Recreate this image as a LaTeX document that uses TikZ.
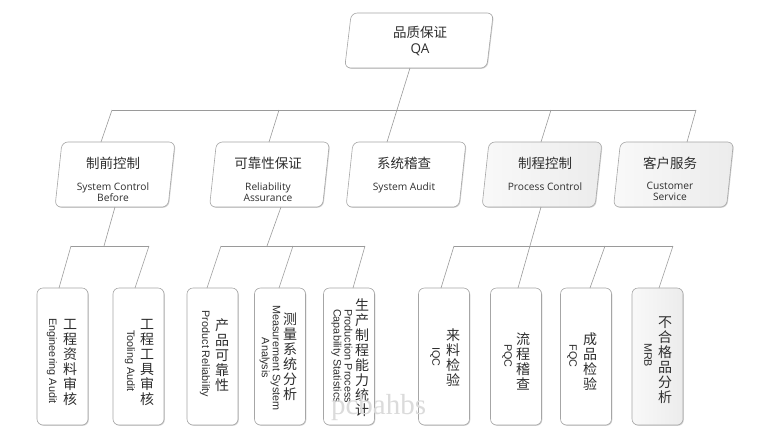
\documentclass[tikz,border=0pt]{standalone}
\usepackage{fontspec}
\setmainfont{Open Sans}
\newfontfamily\zhfont{Noto Sans CJK SC}
\newfontfamily\arfont{Liberation Sans}
\newfontfamily\wmfont{Liberation Serif}
\usetikzlibrary{calc,shadows}
\definecolor{linegray}{HTML}{9A9A9A}
\definecolor{boxgray}{HTML}{A6A6A6}
\definecolor{txt}{HTML}{2E2E2E}
\newcommand{\slantframe}[3]{%
  \path[boxline,#3] ([xshift=-#2pt]#1.south west) -- ([xshift=#2pt]#1.north west)
     -- ([xshift=#2pt]#1.north east) -- ([xshift=-#2pt]#1.south east) -- cycle;}
\tikzset{
  frame/.style={inner sep=0pt, outer sep=0pt},
  midbox/.style={frame, minimum width=113pt, minimum height=65pt},
  topbox/.style={frame, minimum width=142pt, minimum height=55pt},
  boxline/.style={draw=boxgray, line width=0.6pt, rounded corners=6pt, fill=white,
    drop shadow={shadow xshift=0.8pt, shadow yshift=-0.8pt, opacity=0.18, fill=black}},
  grayfill/.style={left color=gray!5, right color=gray!15},
  leafbox/.style={frame, draw=boxgray, line width=0.6pt, rounded corners=6pt, fill=white,
    minimum width=51pt, minimum height=137pt,
    drop shadow={shadow xshift=0.8pt, shadow yshift=-0.8pt, opacity=0.18, fill=black}},
  conn/.style={draw=linegray, line width=0.6pt},
  zhtitle/.style={frame, font=\zhfont\fontsize{13.5}{15}\selectfont, text=txt},
  entitle/.style={frame, font=\fontsize{10.2}{11}\selectfont, align=center, text=txt, anchor=north},
  zhcol/.style={frame, font=\zhfont\fontsize{14}{15}\selectfont, align=center, text=txt},
  encol/.style={frame, font=\arfont\fontsize{10.8}{11}\selectfont, align=center, rotate=-90, text=txt},
  wmark/.style={frame, font=\wmfont\fontsize{29}{30}\selectfont, text=gray!28, anchor=base west},
}
\begin{document}
\begin{tikzpicture}[x=1pt,y=-1pt]
\fill[white] (0,0) rectangle (757,442);
\useasboundingbox (0,0) rectangle (757,442);

% ---- top box
\node[topbox] (qa) at (419,40.5) {};
\slantframe{qa}{3.3}{}
\node[zhtitle] (qaz) at (420,32) {品质保证};
\node[frame, font=\fontsize{13.5}{15}\selectfont, text=txt] (qae) at (420,50) {QA};

% ---- middle boxes
\node[midbox] (m1) at (115,174.5) {};
\node[midbox] (m2) at (269.5,174.5) {};
\node[midbox] (m3) at (406,174.5) {};
\node[midbox] (m4) at (542,174.5) {};
\node[midbox] (m5) at (673.5,174.5) {};
\slantframe{m1}{3.5}{}
\slantframe{m2}{3.5}{}
\slantframe{m3}{3.5}{}
\slantframe{m4}{3.5}{grayfill}
\slantframe{m5}{3.5}{grayfill}

\node[zhtitle] (m1z) at (113,163) {制前控制};
\node[entitle] (m1e) at (113,182.5) {System Control\\Before};
\node[zhtitle] (m2z) at (268,163) {可靠性保证};
\node[entitle] (m2e) at (268,182.5) {Reliability\\Assurance};
\node[zhtitle] (m3z) at (404,163) {系统稽查};
\node[entitle] (m3e) at (404,182.5) {System Audit};
\node[zhtitle] (m4z) at (545,163) {制程控制};
\node[entitle] (m4e) at (545,182.5) {Process Control};
\node[zhtitle] (m5z) at (670,163) {客户服务};
\node[entitle] (m5e) at (670,182.5) {Customer\\Service};

% ---- leaf boxes
\node[leafbox] (b1) at (62.5,356.5) {};
\node[leafbox] (b2) at (138.5,356.5) {};
\node[leafbox] (b3) at (212.5,356.5) {};
\node[leafbox] (b4) at (280,356.5) {};
\node[leafbox] (b5) at (349,356.5) {};
\node[leafbox] (b6) at (444,356.5) {};
\node[leafbox] (b7) at (516,356.5) {};
\node[leafbox] (b8) at (586,356.5) {};
\node[leafbox, grayfill] (b9) at (657.5,356.5) {};

\node[zhcol] (b1z) at (70,362) {工\\程\\资\\料\\审\\核};
\node[encol] (b1e) at (52,361) {Engineering Audit};
\node[zhcol] (b2z) at (147,362) {工\\程\\工\\具\\审\\核};
\node[encol] (b2e) at (130,361) {Tooling Audit};
\node[zhcol] (b3z) at (222,355) {产\\品\\可\\靠\\性};
\node[encol] (b3e) at (205,354) {Product Reliability};
\node[zhcol] (b4z) at (290,357) {测\\量\\系\\统\\分\\析};
\node[encol] (b4e) at (270,358) {Measurement System\\Analysis};
\node[zhcol] (b5z) at (362,358) {生\\产\\制\\程\\能\\力\\统\\计};
\node[encol] (b5e) at (342,356) {Production Process\\Capability Statistics};
\node[zhcol] (b6z) at (453,358) {来\\料\\检\\验};
\node[encol] (b6e) at (435,357) {IQC};
\node[zhcol] (b7z) at (523,361) {流\\程\\稽\\查};
\node[encol] (b7e) at (507,356) {PQC};
\node[zhcol] (b8z) at (590,362) {成\\品\\检\\验};
\node[encol] (b8e) at (572,356) {FQC};
\node[zhcol] (b9z) at (665,360) {不\\合\\格\\品\\分\\析};
\node[encol] (b9e) at (648,355) {MRB};

% ---- connectors, level 1
\coordinate (h1L) at (112,110);
\coordinate (h1R) at (696,110);
\coordinate (h1b) at (279,110);
\coordinate (h1d) at (551,110);
\draw[conn] (h1L) -- (h1R);
\draw[conn] ($(qa.south)+(-9,0)$) -- ($(m3.north)+(-19,0)$);
\draw[conn] (h1L) -- ($(m1.north)+(-14,0)$);
\draw[conn] (h1b) -- ($(m2.north)+(-0.5,0)$);
\draw[conn] (h1d) -- ($(m4.north)+(-1,0)$);
\draw[conn] (h1R) -- ($(m5.north)+(13.5,0)$);

% ---- connectors, level 2
\coordinate (g1L) at (71,246);
\coordinate (g1R) at (149,246);
\coordinate (g1m) at (104,246);
\draw[conn] (m1.south) -- (g1m);
\draw[conn] (g1L) -- (g1R);
\draw[conn] (g1L) -- ($(b1.north)+(-3.5,0)$);
\draw[conn] (g1R) -- ($(b2.north)+(-3.5,0)$);

\coordinate (g2L) at (221,246);
\coordinate (g2M) at (293,246);
\coordinate (g2R) at (365,246);
\coordinate (g2m) at (267,246);
\draw[conn] ($(m2.south)+(11.5,0)$) -- (g2m);
\draw[conn] (g2L) -- (g2R);
\draw[conn] (g2L) -- ($(b3.north)+(-5.5,0)$);
\draw[conn] (g2M) -- ($(b4.north)+(-1,0)$);
\draw[conn] (g2R) -- ($(b5.north)+(4,0)$);

\coordinate (g4L) at (454,246);
\coordinate (g4M) at (605,246);
\coordinate (g4R) at (673,246);
\draw[conn] ($(m4.south)+(-1,0)$) -- ($(b7.north)+(2,0)$);
\draw[conn] (g4L) -- (g4R);
\draw[conn] (g4L) -- ($(b6.north)+(-3,0)$);
\draw[conn] (g4M) -- ($(b8.north)+(4,0)$);
\draw[conn] (g4R) -- ($(b9.north)+(1.5,0)$);

% ---- watermark
\node[wmark] (wm) at (331,414) {pcbahbs};
\end{tikzpicture}
\end{document}
